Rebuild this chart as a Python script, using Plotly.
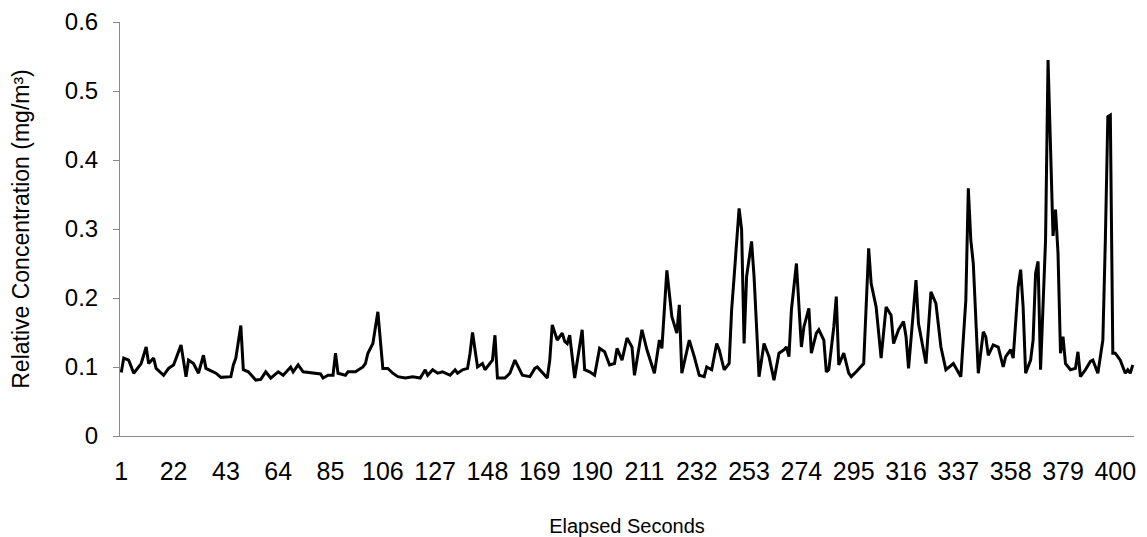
import plotly.graph_objects as go

# Elapsed seconds (vertices) and relative concentration (mg/m3)
seconds = [
    1, 2, 4, 6, 9, 11, 12, 14, 15, 18, 20, 22, 25, 27, 28, 30, 32, 34, 35, 39,
    41, 45, 46, 47, 49, 50, 52, 55, 57, 59, 61, 64, 66, 69, 70, 72, 74, 78, 81, 82,
    84, 86, 87, 88, 91, 92, 95, 98, 99, 100, 102, 104, 105, 106, 108, 110, 112, 115, 118, 121,
    123, 124, 126, 128, 130, 133, 135, 136, 138, 140, 141, 142, 144, 146, 147, 150, 151, 152, 155, 157,
    159, 160, 162, 165, 167, 168, 172, 173, 174, 176, 178, 179, 180, 181, 183, 186, 187, 189, 191, 193,
    195, 197, 199, 200, 202, 204, 206, 207, 210, 212, 215, 217, 218, 220, 222, 224, 225, 226, 229, 231,
    233, 235, 236, 238, 240, 241, 243, 245, 246, 247, 249, 250, 251, 252, 254, 255, 257, 259, 261, 263,
    265, 267, 268, 269, 270, 272, 273, 274, 275, 277, 278, 280, 281, 283, 284, 285, 287, 288, 289, 291,
    293, 294, 296, 298, 299, 301, 302, 304, 306, 308, 310, 311, 313, 315, 316, 317, 320, 321, 324, 326,
    328, 330, 332, 335, 338, 340, 341, 342, 343, 345, 347, 348, 349, 351, 353, 355, 356, 358, 359, 361,
    362, 363, 364, 366, 367, 368, 369, 370, 372, 373, 374, 375, 376, 377, 378, 379, 380, 382, 384, 385,
    386, 388, 390, 391, 393, 395, 396, 397, 398, 399, 400, 402, 404, 405, 406, 407,
]
concentration = [
    0.092, 0.113, 0.110, 0.091, 0.105, 0.129, 0.105, 0.113, 0.098, 0.088, 0.098, 0.103, 0.132, 0.086, 0.110, 0.105, 0.091, 0.117, 0.098, 0.091,
    0.085, 0.086, 0.103, 0.113, 0.160, 0.096, 0.093, 0.081, 0.082, 0.093, 0.084, 0.093, 0.088, 0.100, 0.093, 0.103, 0.093, 0.091, 0.090, 0.084,
    0.088, 0.088, 0.120, 0.091, 0.088, 0.093, 0.093, 0.100, 0.105, 0.120, 0.134, 0.180, 0.139, 0.098, 0.098, 0.091, 0.086, 0.084, 0.086, 0.084,
    0.096, 0.088, 0.096, 0.091, 0.093, 0.088, 0.096, 0.091, 0.096, 0.098, 0.120, 0.150, 0.100, 0.105, 0.096, 0.110, 0.146, 0.084, 0.084, 0.091,
    0.110, 0.103, 0.088, 0.086, 0.098, 0.100, 0.084, 0.110, 0.161, 0.139, 0.149, 0.137, 0.134, 0.146, 0.084, 0.154, 0.096, 0.093, 0.088, 0.127,
    0.122, 0.103, 0.105, 0.127, 0.110, 0.142, 0.129, 0.088, 0.154, 0.125, 0.091, 0.139, 0.127, 0.240, 0.173, 0.149, 0.190, 0.091, 0.139, 0.115,
    0.088, 0.086, 0.100, 0.096, 0.134, 0.125, 0.096, 0.105, 0.183, 0.231, 0.330, 0.299, 0.134, 0.231, 0.282, 0.231, 0.086, 0.134, 0.115, 0.081,
    0.120, 0.125, 0.129, 0.115, 0.183, 0.250, 0.197, 0.129, 0.158, 0.185, 0.120, 0.149, 0.154, 0.139, 0.093, 0.096, 0.158, 0.202, 0.103, 0.120,
    0.091, 0.086, 0.093, 0.100, 0.105, 0.272, 0.221, 0.187, 0.113, 0.187, 0.175, 0.134, 0.154, 0.166, 0.144, 0.098, 0.226, 0.163, 0.105, 0.209,
    0.192, 0.129, 0.096, 0.105, 0.086, 0.197, 0.359, 0.284, 0.250, 0.091, 0.151, 0.144, 0.117, 0.132, 0.129, 0.100, 0.115, 0.125, 0.113, 0.216,
    0.241, 0.187, 0.091, 0.110, 0.139, 0.236, 0.253, 0.096, 0.284, 0.545, 0.430, 0.290, 0.328, 0.265, 0.120, 0.144, 0.105, 0.096, 0.098, 0.122,
    0.086, 0.096, 0.108, 0.110, 0.091, 0.139, 0.284, 0.463, 0.465, 0.120, 0.120, 0.110, 0.091, 0.096, 0.091, 0.103,
]
x_ticks = [1, 22, 43, 64, 85, 106, 127, 148, 169, 190, 211, 232, 253, 274, 295, 316, 337, 358, 379, 400]
y_ticks = [0, 0.1, 0.2, 0.3, 0.4, 0.5, 0.6]
y_tick_labels = ["0", "0.1", "0.2", "0.3", "0.4", "0.5", "0.6"]

font_family = "Liberation Sans, Arial, sans-serif"

fig = go.Figure()
fig.add_trace(go.Scatter(
    x=seconds, y=concentration, mode="lines",
    line=dict(color="#000000", width=3),
    showlegend=False,
))

fig.update_layout(
    width=1147, height=537,
    margin=dict(l=120, r=13, t=22, b=101),
    paper_bgcolor="white", plot_bgcolor="white",
    font=dict(family=font_family, color="#000000"),
)
fig.update_xaxes(
    automargin=False,
    range=[0.5, 407.5],
    tickmode="array", tickvals=x_ticks, ticktext=[str(t) for t in x_ticks],
    showgrid=False, zeroline=False,
    showline=True, linecolor="#8a8a8a", linewidth=1,
    ticks="", tickfont=dict(size=25, family=font_family),
    ticklabelstandoff=13,
    title=dict(text="Elapsed Seconds", font=dict(size=20, family=font_family), standoff=34),
)
fig.update_yaxes(
    automargin=False,
    range=[0, 0.6],
    tickmode="array", tickvals=y_ticks, ticktext=y_tick_labels,
    showgrid=False, zeroline=False,
    showline=True, linecolor="#8a8a8a", linewidth=1,
    ticks="outside", ticklen=6, tickcolor="#8a8a8a", tickwidth=1,
    tickfont=dict(size=24, family=font_family),
    ticklabelstandoff=10,
    title=dict(text="Relative Concentration (mg/m³)", font=dict(size=23, family=font_family), standoff=28),
)

fig.write_html(
    "out.html",
    config={"displayModeBar": False},
    post_script="document.body.style.margin='0';",
)
